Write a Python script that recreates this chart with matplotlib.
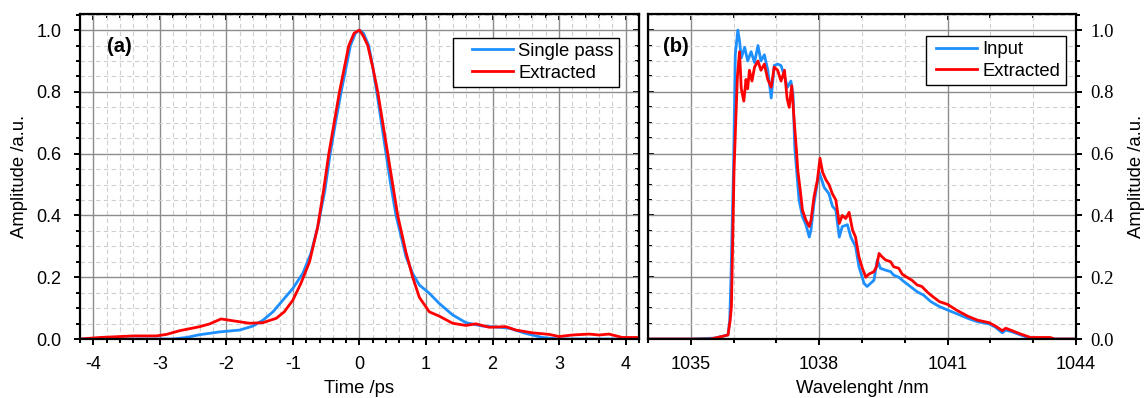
import numpy as np
import matplotlib
matplotlib.use('Agg')
import matplotlib.pyplot as plt
from matplotlib.ticker import MultipleLocator
from matplotlib.legend_handler import HandlerLine2D

plt.rcParams['font.family'] = 'Liberation Sans'
plt.rcParams['axes.unicode_minus'] = False

# (a) temporal profile
t_single = [-4.2, -3.5, -2.8, -2.6, -2.4, -2.1, -1.8, -1.6, -1.45, -1.3, -1.15, -1.0, -0.85, -0.73,
            -0.63, -0.52, -0.44, -0.36, -0.275, -0.135, -0.06, 0.0, 0.06, 0.14, 0.2, 0.26, 0.33, 0.40,
            0.47, 0.55, 0.7, 0.8, 0.9, 1.05, 1.2, 1.4, 1.6, 1.85, 2.1, 2.25, 2.5, 2.75, 3.0, 3.5, 4.2]
a_single = [0.0, 0.0, 0.0, 0.005, 0.014, 0.023, 0.029, 0.042, 0.061, 0.088, 0.126, 0.164, 0.213, 0.277,
            0.36, 0.48, 0.6, 0.7, 0.8, 0.95, 0.99, 1.0, 0.99, 0.95, 0.88, 0.8, 0.7, 0.6,
            0.5, 0.4, 0.266, 0.212, 0.175, 0.148, 0.115, 0.078, 0.053, 0.042, 0.038, 0.035, 0.018, 0.005,
            0.0, 0.0, 0.0]

t_extr = [-4.2, -3.9, -3.4, -3.05, -2.9, -2.7, -2.4, -2.25, -2.08, -1.9, -1.65, -1.45, -1.25, -1.13,
          -1.0, -0.88, -0.75, -0.63, -0.54, -0.46, -0.38, -0.30, -0.16, -0.08, 0.0, 0.06, 0.125, 0.2,
          0.275, 0.35, 0.425, 0.5, 0.575, 0.7, 0.8, 0.9, 1.05, 1.2, 1.4, 1.6, 1.75, 1.95, 2.2, 2.35,
          2.6, 2.85, 3.0, 3.2, 3.45, 3.6, 3.75, 3.95, 4.2]
a_extr = [0.0, 0.005, 0.01, 0.01, 0.015, 0.027, 0.04, 0.049, 0.065, 0.059, 0.051, 0.053, 0.067, 0.088,
          0.126, 0.18, 0.25, 0.36, 0.48, 0.6, 0.7, 0.8, 0.95, 0.99, 1.0, 0.98, 0.95, 0.88,
          0.8, 0.7, 0.6, 0.5, 0.4, 0.28, 0.2, 0.135, 0.088, 0.074, 0.051, 0.044, 0.049, 0.038, 0.04, 0.029,
          0.02, 0.015, 0.008, 0.013, 0.016, 0.013, 0.016, 0.005, 0.005]

# (b) spectra
lam_in = [1034.0, 1035.0, 1035.56, 1035.87, 1035.91, 1035.94, 1035.97, 1036.0, 1036.04, 1036.10,
          1036.14, 1036.18, 1036.26, 1036.33, 1036.41, 1036.49, 1036.57, 1036.64, 1036.72, 1036.80,
          1036.88, 1036.95, 1037.03, 1037.11, 1037.19, 1037.26, 1037.34, 1037.39, 1037.43, 1037.53,
          1037.61, 1037.69, 1037.77, 1037.81, 1037.88, 1038.0, 1038.12, 1038.23, 1038.31, 1038.39,
          1038.47, 1038.54, 1038.66, 1038.74, 1038.85, 1038.93, 1039.05, 1039.12, 1039.28, 1039.36,
          1039.43, 1039.55, 1039.67, 1039.74, 1039.86, 1039.98, 1040.13, 1040.29, 1040.44, 1040.61,
          1040.81, 1041.0, 1041.23, 1041.47, 1041.70, 1041.97, 1042.12, 1042.28, 1042.36, 1042.51,
          1042.71, 1042.94, 1043.3, 1044.0]
s_in = [0.0, 0.0, 0.003, 0.013, 0.06, 0.2, 0.38, 0.56, 0.92, 1.0,
        0.965, 0.91, 0.944, 0.90, 0.93, 0.895, 0.95, 0.90, 0.92, 0.87,
        0.78, 0.885, 0.89, 0.885, 0.85, 0.815, 0.835, 0.79, 0.62, 0.45,
        0.396, 0.37, 0.33, 0.353, 0.44, 0.54, 0.49, 0.47, 0.43, 0.417,
        0.33, 0.364, 0.37, 0.33, 0.30, 0.234, 0.18, 0.17, 0.19, 0.256,
        0.229, 0.223, 0.218, 0.207, 0.20, 0.186, 0.17, 0.153, 0.142, 0.121,
        0.105, 0.094, 0.081, 0.067, 0.056, 0.049, 0.038, 0.02, 0.029, 0.023,
        0.013, 0.002, 0.0, 0.0]

lam_ex = [1034.0, 1035.45, 1035.56, 1035.87, 1035.92, 1035.95, 1035.98, 1036.01, 1036.05, 1036.09,
          1036.14, 1036.18, 1036.24, 1036.29, 1036.33, 1036.37, 1036.43, 1036.49, 1036.57, 1036.64,
          1036.72, 1036.80, 1036.88, 1036.95, 1037.03, 1037.11, 1037.19, 1037.25, 1037.30, 1037.36,
          1037.42, 1037.47, 1037.50, 1037.56, 1037.61, 1037.69, 1037.77, 1037.81, 1037.88, 1037.96,
          1038.02, 1038.08, 1038.16, 1038.23, 1038.31, 1038.39, 1038.47, 1038.54, 1038.62, 1038.70,
          1038.78, 1038.85, 1038.93, 1039.01, 1039.09, 1039.16, 1039.28, 1039.34, 1039.40, 1039.47,
          1039.55, 1039.67, 1039.74, 1039.86, 1039.94, 1040.05, 1040.17, 1040.29, 1040.40, 1040.52,
          1040.61, 1040.81, 1041.0, 1041.23, 1041.47, 1041.70, 1041.97, 1042.12, 1042.28, 1042.36,
          1042.51, 1042.71, 1042.94, 1043.40, 1043.50, 1044.0]
s_ex = [0.0, 0.0, 0.003, 0.013, 0.06, 0.105, 0.32, 0.54, 0.70, 0.85,
        0.93, 0.81, 0.77, 0.84, 0.81, 0.87, 0.835, 0.88, 0.90, 0.87,
        0.89, 0.84, 0.815, 0.88, 0.87, 0.835, 0.87, 0.78, 0.75, 0.82,
        0.70, 0.61, 0.547, 0.48, 0.417, 0.385, 0.364, 0.385, 0.46, 0.515,
        0.585, 0.54, 0.515, 0.50, 0.47, 0.45, 0.374, 0.40, 0.39, 0.41,
        0.353, 0.33, 0.266, 0.229, 0.20, 0.21, 0.218, 0.234, 0.277, 0.266,
        0.256, 0.25, 0.234, 0.229, 0.21, 0.20, 0.19, 0.175, 0.17, 0.153,
        0.142, 0.121, 0.112, 0.092, 0.074, 0.061, 0.053, 0.042, 0.027, 0.035,
        0.027, 0.016, 0.005, 0.005, 0.0, 0.0]

yticks = [0.0, 0.2, 0.4, 0.6, 0.8, 1.0]
ytick_labels = ['0.0', '0.2', '0.4', '0.6', '0.8', '1.0']

blue = '#1e8fff'
red = '#ff0000'

fig = plt.figure(figsize=(11.44, 3.98), dpi=100)
ax1 = fig.add_axes([0.0699, 0.1482, 0.4886, 0.8166])
ax2 = fig.add_axes([0.5664, 0.1482, 0.3741, 0.8166])


def set_ticks(ax, axis, maj, mnr, **kw):
    a = ax.xaxis if axis == 'x' else ax.yaxis
    a.set_major_locator(MultipleLocator(maj))
    a.set_minor_locator(MultipleLocator(mnr))
    ax.tick_params(which='both', width=1.4, **kw)
    ax.tick_params(which='major', length=4.5)
    ax.tick_params(which='minor', length=3)


def style_axes(ax, xmaj, xmin):
    ax.set_ylim(0, 1.052)
    ax.xaxis.set_major_locator(MultipleLocator(xmaj))
    ax.xaxis.set_minor_locator(MultipleLocator(xmin))
    ax.yaxis.set_major_locator(MultipleLocator(0.2))
    ax.yaxis.set_minor_locator(MultipleLocator(0.05))
    ax.grid(which='major', color='#8c8c8c', lw=1.0)
    ax.grid(which='minor', color='#cfcfcf', lw=0.8, ls=(0, (4, 3)))
    ax.set_axisbelow(True)
    for s in ax.spines.values():
        s.set_linewidth(1.6)
    ax.tick_params(which='both', width=1.4, labelsize=13, direction='out')
    ax.tick_params(which='major', length=4.5)
    ax.tick_params(which='minor', length=3)
    ax.tick_params(axis='x', pad=8)
    top = ax.secondary_xaxis('top')
    set_ticks(top, 'x', xmaj, xmin, direction='in', labeltop=False)


# panel (a)
ax1.plot(t_single, a_single, color=blue, lw=2, label='Single pass')
ax1.plot(t_extr, a_extr, color=red, lw=2, label='Extracted')
ax1.set_xlim(-4.2, 4.2)
style_axes(ax1, 1, 0.2)
ax1.set_xticks([-4, -3, -2, -1, 0, 1, 2, 3, 4])
ax1.set_yticks(yticks)
ax1.set_yticklabels(ytick_labels)
ax1.tick_params(axis='y', pad=9)
r1 = ax1.secondary_yaxis('right')
set_ticks(r1, 'y', 0.2, 0.05, direction='in', labelright=False)
ax1.set_xlabel('Time /ps', fontsize=13.3, labelpad=5)
ax1.set_ylabel('Amplitude /a.u.', fontsize=13.3, labelpad=6)
ax1.text(0.048, 0.9, '(a)', transform=ax1.transAxes, fontsize=14.5, fontweight='bold', va='center')
leg1 = ax1.legend(loc='upper right', bbox_to_anchor=(0.964, 0.927), borderaxespad=0, fontsize=13.3,
                  fancybox=False, framealpha=1, edgecolor='black', handlelength=2.95,
                  handletextpad=0.28, borderpad=0.28, labelspacing=0.25,
                  handler_map={plt.Line2D: HandlerLine2D(xpad=0.7)})
leg1.get_frame().set_linewidth(1.0)

# panel (b)
ax2.plot(lam_in, s_in, color=blue, lw=2, label='Input')
ax2.plot(lam_ex, s_ex, color=red, lw=2, label='Extracted')
ax2.set_xlim(1034, 1044)
style_axes(ax2, 3, 1)
ax2.set_xticks([1035, 1038, 1041, 1044])
ax2.yaxis.tick_right()
ax2.yaxis.set_label_position('right')
ax2.set_yticks(yticks)
ax2.set_yticklabels(ytick_labels, family='Liberation Serif', fontsize=13.5)
ax2.tick_params(axis='y', pad=6)
l2 = ax2.secondary_yaxis('left')
set_ticks(l2, 'y', 0.2, 0.05, direction='in', labelleft=False)
ax2.set_xlabel('Wavelenght /nm', fontsize=13.3, labelpad=5)
ax2.set_ylabel('Amplitude /a.u.', fontsize=13.3, labelpad=10, rotation=90)
ax2.text(0.035, 0.9, '(b)', transform=ax2.transAxes, fontsize=14.5, fontweight='bold', va='center')
leg2 = ax2.legend(loc='upper right', bbox_to_anchor=(0.976, 0.932), borderaxespad=0, fontsize=13.3,
                  fancybox=False, framealpha=1, edgecolor='black', handlelength=2.5,
                  handletextpad=0.28, borderpad=0.28, labelspacing=0.25,
                  handler_map={plt.Line2D: HandlerLine2D(xpad=0.25)})
leg2.get_frame().set_linewidth(1.0)

fig.savefig('out.png', dpi=100)
